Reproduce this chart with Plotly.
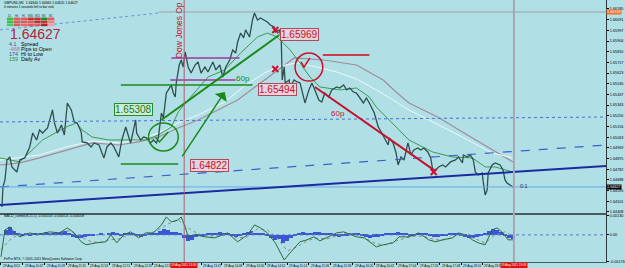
import plotly.graph_objects as go
import pandas as pd

# ---------------- data (time = minutes after 29 Aug 2011 10:24, prices) ----------------
T0 = pd.Timestamp("2011-08-29 10:24")

price_min = [2,3,5,7,10,12,17,20,25,30,33,37,40,43,48,53,55,58,62,65,68,72,75,78,82,83,88,92,95,100,
             103,105,108,112,115,118,120,123,127,130,132,137,138,142,145,148,152,155,158,160,162,163,165,167,168,
             170,173,175,177,178,181,183,185,187,190,193,197,200,203,207,210,215,218,222,225,228,232,235,238,240,
             243,246,248,252,255,257,260,263,267,270,273,277,278,282,284,285,287,288,292,293,297,300,303,307,308,
             312,315,318,322,325,328,332,335,340,343,347,350,353,357,360,363,367,370,373,378,382,385,388,392,393,
             397,400,402,405,408,412,415,418,422,425,428,432,435,437,440,443,447,450,455,460,463,467,468,472,475,
             478,480,483,487,488,490,492,493,497,500,505,508,510,512,515,517,518]
price = [1.64452,1.64627,1.64688,1.64863,1.64889,1.64802,1.64758,1.64863,1.64881,1.64977,1.65099,1.65038,1.65126,
         1.65099,1.65143,1.65301,1.65187,1.65099,1.65169,1.65082,1.65362,1.65301,1.65196,1.65187,1.65108,1.65021,
         1.65012,1.64977,1.65012,1.64994,1.64924,1.64881,1.64977,1.65012,1.64977,1.64924,1.64889,1.65038,1.65152,
         1.65064,1.65012,1.65213,1.65099,1.65038,1.65064,1.65056,1.65012,1.65038,1.65012,1.65064,1.65213,1.65274,
         1.65231,1.65362,1.65449,1.65476,1.65519,1.65449,1.65414,1.65537,1.65694,1.65738,1.65677,1.65808,1.65677,
         1.65624,1.65694,1.65721,1.65624,1.65677,1.65633,1.65721,1.65651,1.65694,1.65589,1.65677,1.65738,1.65826,
         1.65799,1.65896,1.65974,1.65931,1.66001,1.65939,1.66088,1.66149,1.66088,1.66106,1.66088,1.66071,1.66044,
         1.66027,1.65983,1.66001,1.65931,1.65563,1.65677,1.65537,1.65563,1.65502,1.65563,1.65546,1.65537,1.65388,
         1.65362,1.65476,1.65537,1.65476,1.65388,1.65371,1.65449,1.65414,1.65476,1.65502,1.65493,1.65519,1.65476,
         1.65493,1.65458,1.65449,1.65414,1.65362,1.65406,1.65362,1.65274,1.65152,1.65108,1.65064,1.64994,1.65056,
         1.65012,1.64924,1.64819,1.64889,1.64863,1.65012,1.64907,1.64951,1.64968,1.64951,1.64968,1.64933,1.64881,
         1.64776,1.64776,1.64802,1.64819,1.64802,1.64846,1.64863,1.64889,1.64837,1.64907,1.64889,1.64907,1.64863,
         1.64758,1.64732,1.64749,1.64671,1.64557,1.64601,1.64749,1.64819,1.64837,1.64819,1.64776,1.64688,1.64662,
         1.64644,1.64635,1.64627]

ma_fast_min = [0,20,43,67,77,83,93,110,147,160,173,180,190,210,227,243,260,270,280,293,303,313,323,343,360,373,
               380,390,400,413,437,457,477,490,500,518]
ma_fast = [1.64881,1.64846,1.65038,1.65152,1.65187,1.65126,1.65064,1.65038,1.65038,1.65082,1.65152,1.65283,1.65388,
           1.65589,1.65651,1.65799,1.65939,1.65974,1.65939,1.65826,1.65712,1.65589,1.65502,1.65476,1.65493,1.65414,
           1.65327,1.65239,1.65152,1.65038,1.64933,1.64889,1.64881,1.64802,1.64802,1.64758]

ma_mid_min = [0,40,67,93,120,140,160,180,200,227,247,267,283,300,320,340,360,387,413,433,467,497,518]
ma_mid = [1.64863,1.64907,1.64977,1.65029,1.65012,1.65038,1.65099,1.65187,1.65256,1.65371,1.65511,1.65624,1.65686,
          1.65712,1.65677,1.65633,1.65572,1.65441,1.65301,1.65213,1.65064,1.64924,1.64881]

ma_slow_min = [0,20,40,67,93,120,140,160,180,200,240,270,297,327,360,387,400,413,442,467,497,518]
ma_slow = [1.64819,1.64837,1.64881,1.64951,1.65012,1.64994,1.65021,1.65064,1.65143,1.65213,1.65388,1.65581,1.65756,
           1.65738,1.65694,1.65563,1.65458,1.65362,1.65239,1.65108,1.64951,1.64846]

macd_min = [1,5,10,15,20,30,37,50,60,68,75,82,87,97,107,112,118,125,132,140,147,155,163,168,173,180,183,187,190,197,
            207,217,230,240,250,257,263,270,278,287,293,303,310,317,323,330,340,347,360,368,373,380,387,397,403,413,
            423,433,440,447,457,463,470,477,483,490,497,502,508,513,518]
macd = [-0.00146,0.00033,0.00053,0.00013,-0.00013,0.00013,0.0,0.0002,0.00013,0.00046,0.00013,-0.00046,-0.00066,
        -0.00053,-0.00046,0.0,-0.00053,0.0,0.0002,-0.0002,0.00013,0.00013,0.00066,0.00119,0.00086,0.00099,0.00119,
        0.00053,-0.00013,0.0,-0.00013,-0.0002,0.00013,-0.00046,0.0,0.00066,0.00046,0.00013,-0.00053,-0.00166,
        -0.00119,-0.00046,-0.00033,-0.00013,-0.0004,-0.0002,0.00013,0.0002,-0.00013,-0.0002,-0.00046,-0.0008,
        -0.00066,-0.00053,-0.00013,-0.00013,0.00013,-0.00033,-0.00046,-0.00033,-0.0002,0.00013,0.0,-0.00033,
        -0.00053,-0.00066,0.00033,0.00046,0.00013,-0.00033,-0.00033]

signal_min = [1,10,20,30,50,70,80,90,100,110,120,130,140,150,160,170,180,190,200,210,220,230,240,250,260,270,280,
              290,300,310,320,330,340,350,360,370,380,390,400,410,420,430,440,450,460,470,480,490,500,510,518]
signal = [-0.00099,-0.00033,0.00007,0.00007,0.00007,0.00027,-0.00007,-0.0004,-0.00053,-0.00033,-0.00027,0.0,
          -0.00007,0.00007,0.00033,0.00073,0.00099,0.00046,0.00007,-0.00007,-0.00007,0.0,-0.0002,-0.00013,0.0004,
          0.00033,-0.0002,-0.00106,-0.0008,-0.0004,-0.0002,-0.00027,-0.00007,0.00013,0.0,-0.00027,-0.0006,-0.00066,
          -0.0004,-0.0002,-0.00007,-0.00013,-0.00033,-0.00033,-0.00007,0.0,-0.00027,-0.00053,0.0,0.0002,-0.00007]

hist = [0.0,0.00033,0.00053,0.00026,0.00007,-0.00007,0.00007,-0.00007,0.00007,0.00007,0.00013,0.0002,0.00013,
        0.00013,0.00007,0.0002,0.00026,0.00013,-0.00013,-0.0002,-0.0002,-0.00013,-0.00007,-0.00007,0.0,0.00007,
        0.0,0.00013,0.0002,0.00007,-0.00007,0.00007,0.00013,0.00007,-0.00007,-0.00013,-0.00007,0.00007,0.00007,
        0.00013,0.00026,0.0004,0.00033,0.0002,0.0002,0.00013,-0.0002,-0.0004,-0.00033,-0.00013,-0.00007,-0.00007,
        0.00007,0.00007,0.00013,0.0002,0.00013,0.00013,-0.00007,-0.00013,-0.00007,0.00007,0.0002,0.00026,0.00013,
        0.00007,0.00007,-0.00007,-0.0002,-0.00033,-0.00026,-0.00053,-0.0004,-0.0002,-0.00007,0.00013,0.0002,
        0.00013,0.00013,0.0002,0.0002,0.00007,0.00007,0.00007,-0.00007,-0.00013,-0.00007,-0.00007,0.00007,0.00007,
        0.00007,-0.00007,-0.00013,-0.0002,-0.00013,-0.00013,-0.00007,0.00007,0.00007,0.00013,0.0002,0.00013,
        0.00007,-0.00007,-0.00007,0.00007,0.00013,0.00007,-0.00007,-0.00013,-0.00013,-0.00007,-0.00007,0.00007,
        0.00013,0.00007,-0.00007,-0.00013,-0.0002,-0.0002,-0.00013,-0.00007,0.00013,0.00026,0.0004,0.00033,0.0002,
        -0.00007,-0.0002,-0.00026]
hist_min = list(range(2, 2 + 4 * len(hist), 4))

tick_times = ["10:25","10:47","11:09","11:31","11:53","12:15","12:37","12:58","13:47","14:08","14:30","14:52",
              "15:14","15:36","15:58","16:20","16:42","17:04","17:26","17:48","18:10","18:31"]
tick_labels = ["29 Aug 2011","29 Aug 10:47","29 Aug 11:09","29 Aug 11:31","29 Aug 11:53","29 Aug 12:15",
               "29 Aug 12:37","29 Aug 12:58","29 Aug 13:47","29 Aug 14:08","29 Aug 14:30","29 Aug 14:52",
               "29 Aug 15:14","29 Aug 15:36","29 Aug 15:58","29 Aug 16:20","29 Aug 16:42","29 Aug 17:04",
               "29 Aug 17:26","29 Aug 17:48","29 Aug 18:10","29 Aug 18:31"]

vlines = [(186, "29 Aug 2011 13:30", "#b0606e", 1), (519, "29 Aug 2011 19:03", "#a9a6b2", 2)]

# drawn objects: (start min, start price, end min, end price, colour, width, dash)
trend_objects = [
    (160, 1.66158, 612, 1.66158, "#9aa2aa", 1, "solid"),
    (0, 1.66001, 160, 1.66149, "#6f8fcf", 1, "dot"),
    (0, 1.65196, 612, 1.65239, "#4a6fd0", 1, "dot"),
    (0, 1.64627, 612, 1.64994, "#3a62c8", 1.2, "dash"),
    (0, 1.64627, 612, 1.64627, "#6aa8e0", 1, "solid"),
    (0, 1.64469, 612, 1.64810, "#1c2aa0", 2, "solid"),
    (173, 1.65756, 242, 1.65756, "#9c3a9c", 1.5, "solid"),
    (172, 1.65563, 238, 1.65563, "#9c3a9c", 1.5, "solid"),
    (122, 1.65519, 255, 1.65519, "#1a8a1a", 1.5, "solid"),
    (163, 1.65213, 282, 1.65957, "#1a8a1a", 2, "solid"),
    (122, 1.64828, 180, 1.64828, "#1a8a1a", 1.5, "solid"),
    (318, 1.65502, 438, 1.64776, "#c8102e", 2, "solid"),
    (326, 1.65782, 373, 1.65782, "#c83c4c", 2, "solid"),
]
circles = [(150, 1.64942, 180, 1.65187, "#1a8a1a"), (298, 1.65554, 326, 1.65799, "#c8102e")]
green_check_min, green_check = [157, 161, 170], [1.65064, 1.65021, 1.65108]
red_check_min, red_check = [304, 307, 313], [1.65721, 1.65677, 1.65756]
cross_min, cross_price = [278, 278, 438], [1.66001, 1.65659, 1.64758]
price_labels = [(302, 1.65961, "1.65969", "#c8102e", "#b04a5a", "#e6d4dc"),
                (280, 1.65476, "1.65494", "#c8102e", "#b04a5a", "#e6d4dc"),
                (212, 1.64819, "1.64822", "#c8102e", "#b04a5a", "#e6d4dc"),
                (135, 1.65309, "1.65308", "#1a7a1a", "#2a8a2a", "#cdebd6")]
arrow_from, arrow_to = (183, 1.64881), (227, 1.65458)
last_price, alert_price = 1.64627, 1.66158

# ---------------- figure ----------------
FONT = "Arial, Liberation Sans, sans-serif"
BG = "#b0e0e6"
W, H_PLOT = 612.0, 262.0


def T(m):
    return (T0 + pd.Timedelta(minutes=m)).strftime("%Y-%m-%d %H:%M:%S")


def times(ms):
    return [T0 + pd.Timedelta(minutes=m) for m in ms]


def pxp(x, y):
    return x / W, 1 - y / H_PLOT


fig = go.Figure()
fig.add_trace(go.Scatter(x=times(ma_slow_min), y=ma_slow, mode="lines", line=dict(color="#a08c9c", width=1.2),
                         xaxis="x", yaxis="y", hoverinfo="skip"))
fig.add_trace(go.Scatter(x=times(ma_mid_min), y=ma_mid, mode="lines", line=dict(color="#eef8f8", width=1),
                         xaxis="x", yaxis="y", hoverinfo="skip"))
fig.add_trace(go.Scatter(x=times(ma_fast_min), y=ma_fast, mode="lines", line=dict(color="#3c9a50", width=1),
                         xaxis="x", yaxis="y", hoverinfo="skip"))
fig.add_trace(go.Scatter(x=times(price_min), y=price, mode="lines", line=dict(color="#2f4f4f", width=1.3),
                         xaxis="x", yaxis="y"))
fig.add_trace(go.Scatter(x=times(green_check_min), y=green_check, mode="lines",
                         line=dict(color="#1a8a1a", width=1.5), xaxis="x", yaxis="y"))
fig.add_trace(go.Scatter(x=times(red_check_min), y=red_check, mode="lines",
                         line=dict(color="#c8102e", width=1.5), xaxis="x", yaxis="y"))
fig.add_trace(go.Scatter(x=times(cross_min), y=cross_price, mode="markers",
                         marker=dict(symbol="x-thin", size=6, line=dict(color="#d0102e", width=2)),
                         xaxis="x", yaxis="y"))

# MACD panel
fig.add_trace(go.Bar(x=times(hist_min), y=hist, width=4 * 60000, marker=dict(color="#3c54d8", line=dict(width=0)),
                     xaxis="x2", yaxis="y2"))
fig.add_trace(go.Scatter(x=times(signal_min), y=signal, mode="lines",
                         line=dict(color="#8a8a8a", width=1, dash="dot"), xaxis="x2", yaxis="y2"))
fig.add_trace(go.Scatter(x=times(macd_min), y=macd, mode="lines", line=dict(color="#2c6a3a", width=1),
                         xaxis="x2", yaxis="y2"))

shapes = []
for m0, p0, m1, p1, c, w, d in trend_objects:
    shapes.append(dict(type="line", xref="x", yref="y", x0=T(m0), y0=p0, x1=T(m1), y1=p1,
                       line=dict(color=c, width=w, dash=d)))
for m0, p0, m1, p1, c in circles:
    shapes.append(dict(type="circle", xref="x", yref="y", x0=T(m0), y0=p0, x1=T(m1), y1=p1,
                       line=dict(color=c, width=1.5)))
shapes.append(dict(type="line", xref="x2", yref="y2", x0=T(0), x1=T(612), y0=0, y1=0,
                   line=dict(color="#5a78c0", width=1, dash="dot")))
for m, lab, c, w in vlines:
    shapes.append(dict(type="line", xref="x", yref="paper", x0=T(m), x1=T(m), y0=0, y1=1,
                       line=dict(color=c, width=w)))
# info table cells
cell_colors = [["#3fbf3f", "#e05a5a", "#e05a5a", "#c83030", "#c83030", "#1e8c1e", "#e05a5a"],
               ["#3fbf3f", "#e05a5a", "#e05a5a", "#e05a5a", "#c83030", "#c83030", "#f08080"],
               ["#55c855", "#e05a5a", "#e86868", "#e05a5a", "#e05a5a", "#a82828", "#f0a0a0"]]
for r, row in enumerate(cell_colors):
    for c, col in enumerate(row):
        x0, y0 = pxp(7 + c * 6.9, 17.6 + r * 3)
        x1, y1 = pxp(7 + (c + 1) * 6.9 - 0.4, 17.6 + r * 3 + 2.6)
        shapes.append(dict(type="rect", xref="paper", yref="paper", x0=x0, x1=x1, y0=y1, y1=y0,
                           fillcolor=col, line=dict(width=0)))

ann = []
for m, txt in zip(tick_times, tick_labels):
    ann.append(dict(x="2011-08-29 " + m, xref="x", y=-3.5 / H_PLOT, yref="paper", text=txt, showarrow=False,
                    xanchor="left", yanchor="middle", font=dict(size=3.1, color="#000000", family=FONT)))
for m, lab, c, w in vlines:
    ann.append(dict(x=T(m), xref="x", y=-3.5 / H_PLOT, yref="paper", text=lab, showarrow=False,
                    xanchor="center", yanchor="middle", bgcolor="#e01010", borderpad=0.3,
                    font=dict(size=3.0, color="#ffffff", family=FONT)))
for m, p, txt, fc, bc, bg in price_labels:
    ann.append(dict(x=T(m), xref="x", y=p, yref="y", text=txt, showarrow=False, bgcolor=bg, bordercolor=bc,
                    borderwidth=1, borderpad=0, font=dict(size=10, color=fc, family=FONT)))
ann.append(dict(x=T(arrow_to[0]), y=arrow_to[1], xref="x", yref="y", ax=T(arrow_from[0]), ay=arrow_from[1],
                axref="x", ayref="y", showarrow=True, arrowhead=1, arrowsize=1.6, arrowwidth=1.5,
                arrowcolor="#1a8a1a", text=""))
ann.append(dict(x=T(181), xref="x", y=1.66001, yref="y", text="Dow Jones Op", textangle=-90, showarrow=False,
                font=dict(size=8.5, color="#c8102e", family=FONT)))
ann.append(dict(x=T(245), xref="x", y=1.65576, yref="y", text="60p", showarrow=False,
                font=dict(size=8, color="#1a8a1a", family=FONT)))
ann.append(dict(x=T(341), xref="x", y=1.65274, yref="y", text="60p", showarrow=False,
                font=dict(size=8, color="#c8102e", family=FONT)))
ann.append(dict(x=T(529), xref="x", y=1.64636, yref="y", text="0:1", showarrow=False,
                font=dict(size=5.5, color="#303030", family=FONT)))
ann.append(dict(x=1, xref="paper", y=alert_price, yref="y", text=f"{alert_price:.5f}", showarrow=False,
                xanchor="left", bgcolor="#ef6f2a", borderpad=0, font=dict(size=3.8, color="#ffffff", family=FONT)))
ann.append(dict(x=1, xref="paper", y=last_price, yref="y", text=f"{last_price:.5f}", showarrow=False,
                xanchor="left", bgcolor="#000000", borderpad=0, font=dict(size=3.8, color="#ffffff", family=FONT)))


def txt(x, y, s, size, color, anchor="left"):
    px, py = pxp(x, y)
    ann.append(dict(x=px, y=py, xref="paper", yref="paper", text=s, showarrow=False, xanchor=anchor,
                    yanchor="middle", font=dict(size=size, color=color, family=FONT)))


txt(2, 3, "GBPUSD,M1  1.64640 1.64660 1.64620 1.64627", 3.4, "#000000")
txt(2, 7.5, "0 minutes 1 seconds left to bar end", 3.2, "#000000")
for c, h in enumerate(["D1", "H4", "H1", "M30", "M15", "M5", "M1"]):
    txt(7 + c * 6.9 + 3.3, 15.5, h, 2.6, "#203040", "center")
txt(8, 33.5, f"{last_price:.5f}", 14, "#b5203c")
info_rows = [("4.1", "Spread", "#3050a0"), ("-468", "Pips to Open", "#b07090"),
             ("174", "Hi to Low", "#3050a0"), ("159", "Daily Av", "#2a8a2a")]
for i, (num, lab, col) in enumerate(info_rows):
    txt(7.5, 44 + i * 5, num, 5.3, col)
    txt(19, 44 + i * 5, lab, 5.3, "#000000")
txt(2, 216, "MACD_combo(8,21,5) -0.000103 -0.000324 -0.000008", 3.3, "#000000")
txt(2, 259, "FxPro MT4, \u00a9 2001-2011 MetaQuotes Software Corp.", 3.3, "#000000")

fig.update_layout(
    width=625, height=268, margin=dict(l=0, r=13, t=0, b=6),
    paper_bgcolor=BG, plot_bgcolor=BG, showlegend=False, bargap=0,
    font=dict(family=FONT, size=4, color="#000000"),
    shapes=shapes, annotations=ann,
    xaxis=dict(domain=[0, 1], anchor="y", type="date", range=[T(0), T(612)], showticklabels=False,
               showgrid=False, zeroline=False, showline=True, linecolor="#4a5a5e", linewidth=1.5, ticks=""),
    xaxis2=dict(domain=[0, 1], anchor="y2", matches="x", type="date", showticklabels=False, showgrid=False,
                zeroline=False, showline=True, linecolor="#4a5a5e", linewidth=1, ticks="outside", ticklen=2,
                tickcolor="#000000", tickvals=["2011-08-29 " + m for m in tick_times]),
    yaxis=dict(domain=[49 / H_PLOT, 1], anchor="x", side="right", range=[1.64399, 1.66263], tickmode="linear",
               tick0=1.64408, dtick=0.000935, tickformat=".5f", ticks="outside", ticklen=2, tickcolor="#000000",
               tickfont=dict(size=3.8, color="#000000"), showgrid=False, zeroline=False, showline=True,
               linecolor="#2a3a3e", linewidth=1),
    yaxis2=dict(domain=[0, 49 / H_PLOT], anchor="x2", side="right", range=[-0.0018, 0.00145], tickmode="array",
                tickvals=[0.0013, 0, -0.00176], ticktext=["0.00130", "0.00", "-0.00176"], ticks="outside",
                ticklen=2, tickcolor="#000000", tickfont=dict(size=3.8, color="#000000"), showgrid=False,
                zeroline=False, showline=True, linecolor="#2a3a3e", linewidth=1),
)

fig.write_html("out.html")
